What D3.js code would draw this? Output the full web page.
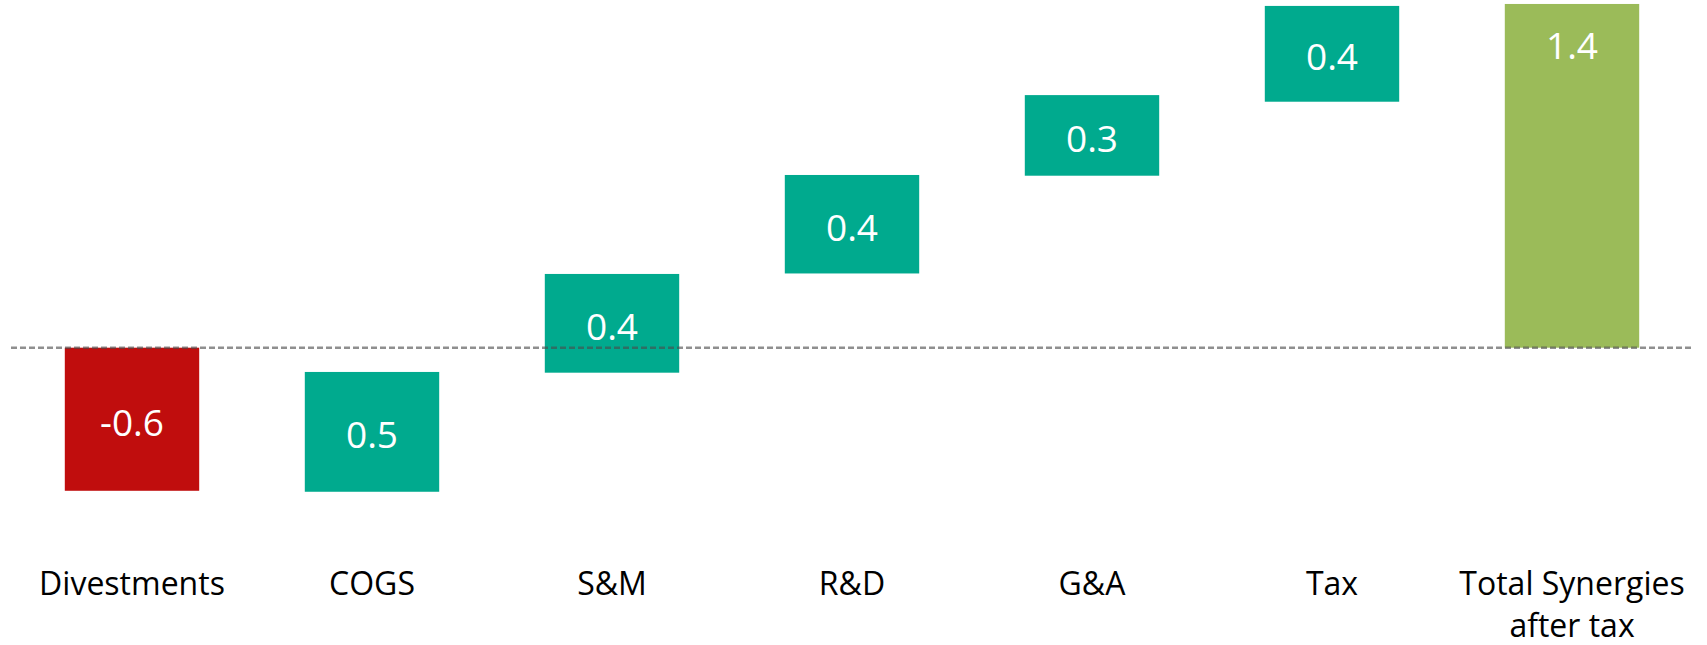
<!DOCTYPE html>
<html>
<head>
<meta charset="utf-8">
<script src="https://cdn.jsdelivr.net/npm/d3@7"></script>
<style>
  html, body { margin: 0; padding: 0; background: #fff; }
  svg { display: block; font-family: "Open Sans", "Noto Sans", sans-serif; }
</style>
</head>
<body>
<svg id="chart" width="1707" height="645"></svg>
<script>
// categories along the bottom (second line after \n)
const categories = ["Divestments", "COGS", "S&M", "R&D", "G&A", "Tax", "Total Synergies\nafter tax"];
// value labels as printed on the bars
const valueLabels = ["-0.6", "0.5", "0.4", "0.4", "0.3", "0.4", "1.4"];
// where each floating bar starts and ends (unrounded)
const barStart = [0, -0.588, -0.102, 0.303, 0.702, 1.004, 0];
const barEnd = [-0.584, -0.099, 0.301, 0.705, 1.031, 1.395, 1.403];
// bar kind: neg / pos / total
const barKind = ["neg", "pos", "pos", "pos", "pos", "pos", "total"];

const colors = { neg: "#C00D0D", pos: "#00AA8E", total: "#9BBB59" };

const width = 1707, height = 645;
const svg = d3.select("#chart");

const x = d3.scaleBand()
  .domain(categories)
  .range([12, 1692])
  .paddingInner(0.44)
  .paddingOuter(0.22);

// zero sits at ~348px, 245px per unit
const y = d3.scaleLinear()
  .domain([-0.6, 1.4])
  .range([347.7 + 0.6 * 245, 347.7 - 1.4 * 245]);

const data = categories.map((c, i) => ({
  cat: c, label: valueLabels[i], from: barStart[i], to: barEnd[i], kind: barKind[i]
}));

// bars
svg.append("g")
  .selectAll("rect")
  .data(data)
  .join("rect")
  .attr("x", d => x(d.cat))
  .attr("width", x.bandwidth())
  .attr("y", d => y(Math.max(d.from, d.to)))
  .attr("height", d => Math.abs(y(d.from) - y(d.to)))
  .attr("fill", d => colors[d.kind]);

// zero line, dashed, over the bars
svg.append("line")
  .attr("x1", 11).attr("x2", 1693)
  .attr("y1", y(0)).attr("y2", y(0))
  .attr("stroke", "#4a4a4a")
  .attr("stroke-opacity", 0.62)
  .attr("stroke-width", 2.5)
  .attr("stroke-dasharray", "6,3");

// value labels
svg.append("g")
  .selectAll("text")
  .data(data)
  .join("text")
  .attr("x", d => x(d.cat) + x.bandwidth() / 2)
  .attr("y", d => d.kind == "total"
    ? y(d.to) + 41
    : (y(d.from) + y(d.to)) / 2 + 2)
  .attr("text-anchor", "middle")
  .attr("dominant-baseline", "central")
  .attr("fill", "#fff")
  .style("font-size", "37px")
  .text(d => d.label);

// category labels
const catG = svg.append("g")
  .selectAll("text")
  .data(data)
  .join("text")
  .attr("x", d => x(d.cat) + x.bandwidth() / 2)
  .attr("y", 595)
  .attr("text-anchor", "middle")
  .attr("fill", "#000")
  .style("font-size", "32px");

catG.selectAll("tspan")
  .data(d => d.cat.split("\n").map((t, j) => ({ t, j })))
  .join("tspan")
  .attr("x", function () { return d3.select(this.parentNode).attr("x"); })
  .attr("dy", d => d.j == 0 ? 0 : 42)
  .text(d => d.t);
</script>
</body>
</html>
